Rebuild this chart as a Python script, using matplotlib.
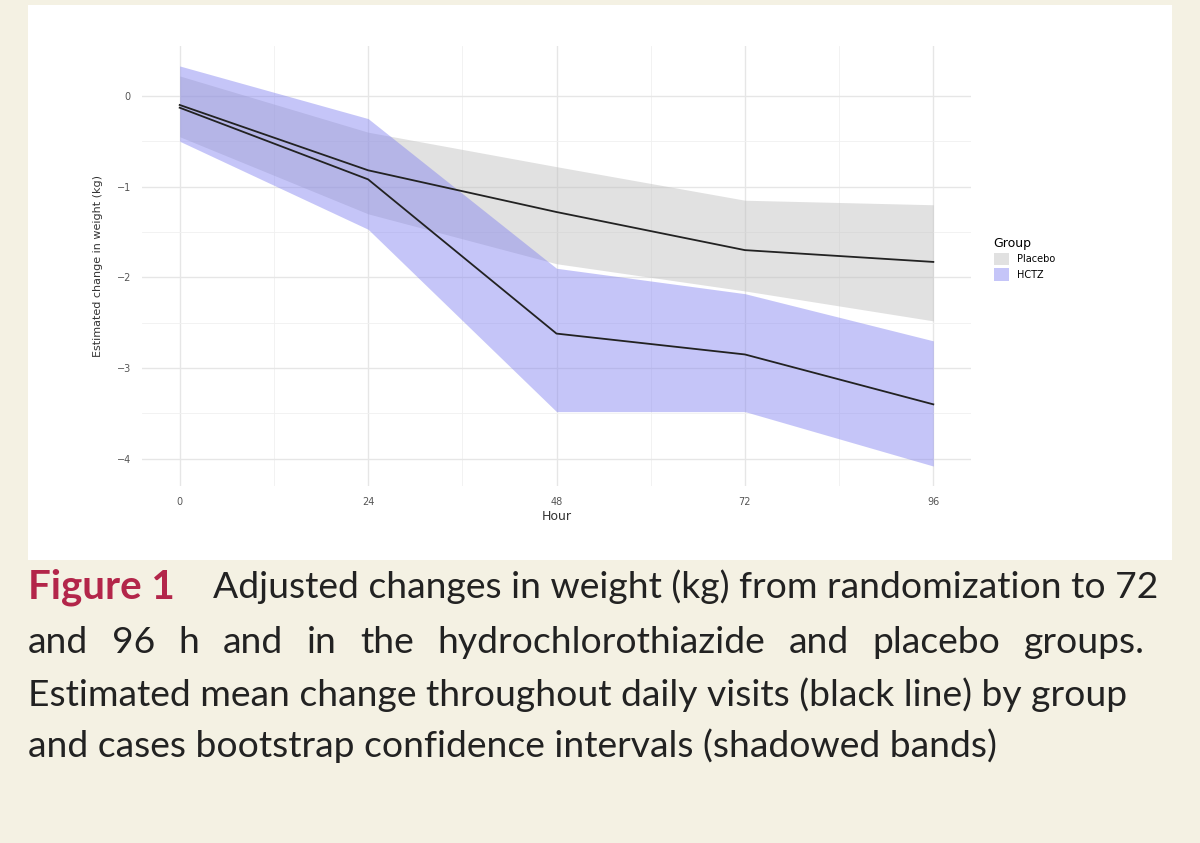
import matplotlib
matplotlib.use("Agg")
import matplotlib.pyplot as plt
from matplotlib.patches import Rectangle, Patch

hours = [0, 24, 48, 72, 96]
placebo_mean = [-0.10, -0.82, -1.28, -1.70, -1.83]
placebo_hi = [0.22, -0.40, -0.78, -1.15, -1.20]
placebo_lo = [-0.45, -1.30, -1.85, -2.15, -2.48]
hctz_mean = [-0.13, -0.92, -2.62, -2.85, -3.40]
hctz_hi = [0.33, -0.25, -1.90, -2.18, -2.70]
hctz_lo = [-0.50, -1.47, -3.48, -3.48, -4.08]

caption = [
    "Adjusted changes in weight (kg) from randomization to 72",
    "and 96 h and in the hydrochlorothiazide and placebo groups.",
    "Estimated mean change throughout daily visits (black line) by group",
    "and cases bootstrap confidence intervals (shadowed bands)",
]

fig = plt.figure(figsize=(12, 8.43), dpi=100)
fig.patch.set_facecolor("#f4f1e3")
fig.patches.append(Rectangle((28 / 1200, 1 - 560 / 843), 1144 / 1200, 555 / 843,
                             transform=fig.transFigure, facecolor="white",
                             edgecolor="none", zorder=-10))

ax = fig.add_axes([142 / 1200, 1 - 486 / 843, 829 / 1200, 440 / 843])
ax.set_facecolor("white")
ax.fill_between(hours, placebo_lo, placebo_hi, color="#bdbdbd", alpha=0.45, lw=0)
ax.fill_between(hours, hctz_lo, hctz_hi, color="#8080f0", alpha=0.45, lw=0)
ax.plot(hours, placebo_mean, color="#222222", lw=1.3)
ax.plot(hours, hctz_mean, color="#222222", lw=1.3)

ax.set_xlim(-4.8, 100.8)
ax.set_ylim(-4.3, 0.55)
ax.set_xticks(hours)
ax.set_xticks([12, 36, 60, 84], minor=True)
ax.set_yticks([0, -1, -2, -3, -4])
ax.set_yticks([-0.5, -1.5, -2.5, -3.5], minor=True)
ax.grid(which="major", color="#e6e6e6", lw=1.0)
ax.grid(which="minor", color="#f0f0f0", lw=0.6)
ax.set_axisbelow(True)
for s in ax.spines.values():
    s.set_visible(False)
ax.tick_params(which="both", length=0, labelsize=7, colors="#555555", pad=8)
ax.set_xlabel("Hour", fontsize=9, color="#333333", labelpad=2)
ax.set_ylabel("Estimated change in weight (kg)", fontsize=8, color="#333333", labelpad=10)

handles = [Patch(facecolor="#bdbdbd", alpha=0.45, label="Placebo"),
           Patch(facecolor="#8080f0", alpha=0.45, label="HCTZ")]
leg = fig.legend(handles=handles, title="Group", loc="upper left",
                 bbox_to_anchor=(985 / 1200, 1 - 228 / 843), frameon=False,
                 fontsize=7, title_fontsize=9, handlelength=1.6, handleheight=1.6,
                 labelspacing=0.3)
leg._legend_box.align = "left"

fs = 26.8
ys = [598, 653, 706, 757]
fig.text(28 / 1200, 1 - ys[0] / 843, "Figure 1", fontsize=29, fontweight="bold",
         color="#b3264a", family="Lato", va="baseline")
fig.text(213 / 1200, 1 - ys[0] / 843, caption[0], fontsize=fs, color="#222222",
         family="Lato", va="baseline")
# justified second line
words = caption[1].split()
x0, x1 = 28, 1145
r = fig.canvas.get_renderer()
tmp = [fig.text(0, 0, w, fontsize=fs, family="Lato") for w in words]
widths = [t.get_window_extent(r).width for t in tmp]
for t in tmp:
    t.remove()
gap = (x1 - x0 - sum(widths)) / (len(words) - 1)
x = x0
for w, wd in zip(words, widths):
    fig.text(x / 1200, 1 - ys[1] / 843, w, fontsize=fs, color="#222222",
             family="Lato", va="baseline")
    x += wd + gap
for line, y in zip(caption[2:], ys[2:]):
    fig.text(28 / 1200, 1 - y / 843, line, fontsize=fs, color="#222222",
             family="Lato", va="baseline")

fig.savefig("out.png", dpi=100, facecolor=fig.get_facecolor())
